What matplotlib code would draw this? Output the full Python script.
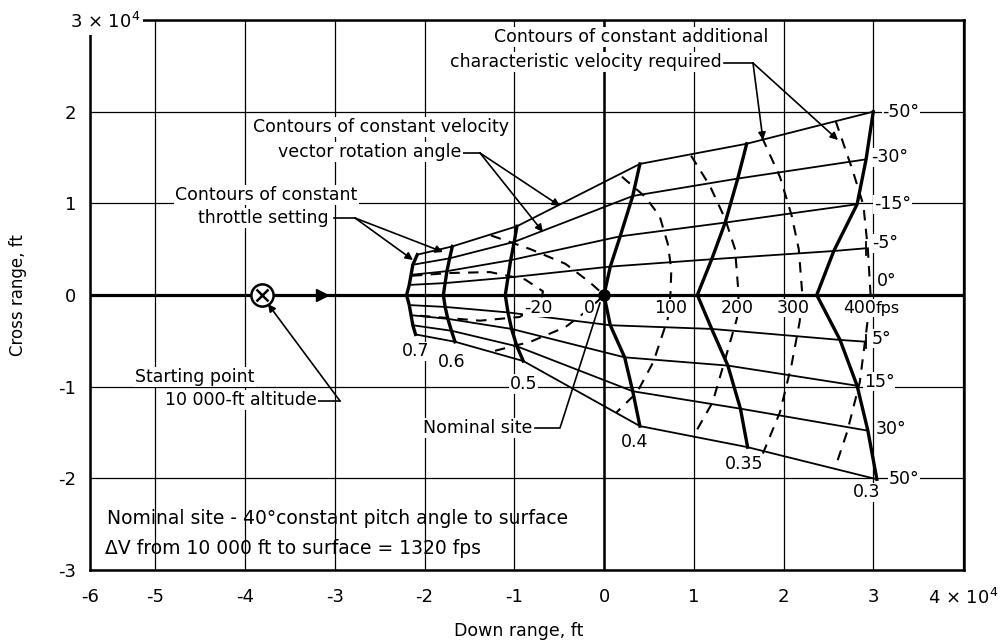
import matplotlib
matplotlib.use("Agg")
import matplotlib.pyplot as plt

plt.rcParams['font.family'] = ['DejaVu Sans']
plt.rcParams['axes.unicode_minus'] = False

# ---------------- data (down range / cross range in units of 10^4 ft) ----------------
angle_labels = ['-50°', '-30°', '-15°', '-5°', '0°', '5°', '15°', '30°', '50°']
throttle_labels = ['0.7', '0.6', '0.5', '0.4', '0.35', '0.3']

# throttle contours: points at the angles above (same order)
thr07_x = [-2.08, -2.13, -2.15, -2.17, -2.20, -2.17, -2.15, -2.13, -2.10]
thr07_y = [0.44, 0.33, 0.22, 0.11, 0.0, -0.11, -0.22, -0.33, -0.43]
thr06_x = [-1.69, -1.72, -1.75, -1.77, -1.79, -1.77, -1.74, -1.70, -1.66]
thr06_y = [0.53, 0.40, 0.26, 0.13, 0.0, -0.13, -0.26, -0.39, -0.51]
thr05_x = [-0.97, -1.00, -1.04, -1.07, -1.10, -1.07, -1.03, -0.97, -0.90]
thr05_y = [0.75, 0.58, 0.38, 0.19, 0.0, -0.19, -0.37, -0.56, -0.72]
thr04_x = [0.40, 0.32, 0.18, 0.07, 0.0, 0.07, 0.23, 0.32, 0.40]
thr04_y = [1.43, 1.08, 0.64, 0.31, 0.0, -0.33, -0.68, -1.05, -1.43]
thr035_x = [1.59, 1.49, 1.35, 1.20, 1.04, 1.20, 1.38, 1.52, 1.60]
thr035_y = [1.65, 1.27, 0.79, 0.39, 0.0, -0.37, -0.77, -1.24, -1.66]
thr03_x = [3.00, 2.92, 2.82, 2.56, 2.37, 2.63, 2.82, 2.94, 3.04]
thr03_y = [2.00, 1.48, 0.99, 0.48, 0.0, -0.49, -0.99, -1.48, -2.01]

# extension of the -5 deg / 5 deg lines beyond the 0.3 contour
ext_m5 = [2.92, 0.51]
ext_p5 = [2.92, -0.51]

# contours of constant additional characteristic velocity (fps)
dv_labels = ['-20', '0', '100', '200', '300', '400']
dvm20_x = [-2.14, -1.72, -1.27, -0.88, -0.68, -0.71, -0.94, -1.38, -2.13]
dvm20_y = [0.21, 0.24, 0.25, 0.17, 0.04, -0.10, -0.24, -0.28, -0.22]
dv0_x = [-1.26, -0.82, -0.43, -0.16, 0.0, -0.16, -0.43, -0.82, -1.26]
dv0_y = [0.65, 0.50, 0.34, 0.14, 0.0, -0.15, -0.35, -0.51, -0.62]
dv100_x = [0.20, 0.46, 0.62, 0.71, 0.75, 0.74, 0.71, 0.55, 0.37, 0.14]
dv100_y = [1.29, 1.07, 0.86, 0.56, 0.28, 0.0, -0.26, -0.73, -1.06, -1.28]
dv200_x = [0.97, 1.18, 1.35, 1.46, 1.50, 1.48, 1.35, 1.21, 0.99]
dv200_y = [1.52, 1.19, 0.83, 0.50, 0.0, -0.26, -0.70, -1.17, -1.55]
dv300_x = [1.76, 1.96, 2.09, 2.17, 2.21, 2.18, 2.09, 1.96, 1.77]
dv300_y = [1.72, 1.29, 0.87, 0.50, 0.0, -0.29, -0.76, -1.28, -1.73]
dv400_x = [2.58, 2.77, 2.89, 2.94, 2.97, 2.94, 2.85, 2.71, 2.57]
dv400_y = [1.90, 1.36, 0.98, 0.50, 0.0, -0.26, -0.95, -1.49, -1.90]

start_point = [-3.81, 0.0]
path_arrow = [-3.14, 0.0]
nominal_site = [0.0, 0.0]

xtick_vals = [-5.727, -5, -4, -3, -2, -1, 0, 1, 2, 3, 4]
xtick_text = ['-6', '-5', '-4', '-3', '-2', '-1', '0', '1', '2', '3', '4 × 10$^4$']
ytick_vals = [-3, -2, -1, 0, 1, 2, 3]
ytick_text = ['-3', '-2', '-1', '0', '1', '2', '']

# ---------------- figure ----------------
W, H = 1007, 643
fig = plt.figure(figsize=(W / 100, H / 100), dpi=100)
ax = fig.add_axes([90 / W, 73 / H, 874 / W, 550 / H])
ax.set_xlim(-5.727, 4.011)
ax.set_ylim(-3.0, 3.0)


def P(px, py):
    """pixel position in the picture -> data coordinates (for text placement)."""
    x0, x1 = ax.get_xlim()
    y0, y1 = ax.get_ylim()
    X = x0 + (px - 90) / 874 * (x1 - x0)
    Y = y1 - (py - 20) / 550 * (y1 - y0)
    return (X, Y)


ax.set_xticks(xtick_vals)
ax.set_xticklabels(xtick_text, fontsize=13)
ax.set_yticks(ytick_vals)
ax.set_yticklabels(ytick_text, fontsize=13)
ax.tick_params(axis='x', length=0, pad=13)
ax.tick_params(axis='y', length=0, pad=10)
ax.grid(True, color='black', lw=0.9, zorder=0)
ax.set_axisbelow(True)
for s in ax.spines.values():
    s.set_linewidth(1.8)
ax.axhline(0, color='black', lw=2.3, zorder=1)
ax.axvline(0, color='black', lw=1.8, zorder=1)

ax.set_xlabel('Down range, ft', fontsize=12.5, labelpad=14)
ax.xaxis.set_label_coords(0.49, -0.095)
ax.set_ylabel('Cross range, ft', fontsize=12)
ax.yaxis.set_label_coords(-0.072, 0.5)

ax.text(*P(105, 22), '3 × 10$^4$', fontsize=13, ha='center', va='center',
        bbox=dict(facecolor='white', edgecolor='none', pad=2), zorder=10, clip_on=False)

# ---------------- grid of throttle / angle contours ----------------
thr_x = [thr07_x, thr06_x, thr05_x, thr04_x, thr035_x, thr03_x]
thr_y = [thr07_y, thr06_y, thr05_y, thr04_y, thr035_y, thr03_y]

for xs, ys in zip(thr_x, thr_y):
    ax.plot(xs, ys, color='black', lw=2.4, solid_joinstyle='round', zorder=4)

for j in range(len(angle_labels)):
    xs = [t[j] for t in thr_x]
    ys = [t[j] for t in thr_y]
    if angle_labels[j] == '-5°':
        xs.append(ext_m5[0]); ys.append(ext_m5[1])
    if angle_labels[j] == '5°':
        xs.append(ext_p5[0]); ys.append(ext_p5[1])
    ax.plot(xs, ys, color='black', lw=1.3, zorder=3)

# small end ticks on the -5 / 5 lines
for e in (ext_m5, ext_p5):
    ax.plot([e[0], e[0]], [e[1] - 0.07, e[1] + 0.07], color='black', lw=1.3, zorder=3)

# dashed contours
dv_x = [dvm20_x, dv0_x, dv100_x, dv200_x, dv300_x, dv400_x]
dv_y = [dvm20_y, dv0_y, dv100_y, dv200_y, dv300_y, dv400_y]
for xs, ys in zip(dv_x, dv_y):
    ax.plot(xs, ys, color='black', lw=1.5, ls=(0, (5, 4)), zorder=3)

# throttle labels
thr_off = [(0, -17), (-3, -20), (0, -23), (-5, -16), (-3, -17), (-10, -13)]
for lab, xs, ys, off in zip(throttle_labels, thr_x, thr_y, thr_off):
    ax.annotate(lab, (xs[-1], ys[-1]), xytext=off, textcoords='offset pixels',
                fontsize=12.5, ha='center', va='center', zorder=6,
                bbox=dict(facecolor='white', edgecolor='none', pad=0.5))

# angle labels
ang_pts = [(thr03_x[0], thr03_y[0]), (thr03_x[1], thr03_y[1]), (thr03_x[2], thr03_y[2]),
           tuple(ext_m5), (thr03_x[4], thr03_y[4]), tuple(ext_p5),
           (thr03_x[6], thr03_y[6]), (thr03_x[7], thr03_y[7]), (thr03_x[8], thr03_y[8])]
ang_off = [(9, 0), (5, 2), (17, 0), (6, 5), (60, 14), (6, 3), (7, 4), (8, 2), (12, 0)]
for lab, pt, off in zip(angle_labels, ang_pts, ang_off):
    ax.annotate(lab, pt, xytext=off, textcoords='offset pixels', fontsize=12.5,
                ha='left', va='center', zorder=6,
                bbox=dict(facecolor='white', edgecolor='none', pad=0.5))

# dv labels (just under the axis)
dv_off = [-5, -15, 0, -1, -9, -11]
for lab, xs, ys, off in zip(dv_labels, dv_x, dv_y, dv_off):
    i0 = min(range(len(ys)), key=lambda k: abs(ys[k]))
    ax.annotate(lab, (xs[i0], 0), xytext=(off, -13), textcoords='offset pixels',
                fontsize=12.5, ha='center', va='center', zorder=6,
                bbox=dict(facecolor='white', edgecolor='none', pad=0.3))
ax.annotate('fps', (dv400_x[4], 0), xytext=(17, -14), textcoords='offset pixels',
            fontsize=11.5, ha='center', va='center', zorder=6,
            bbox=dict(facecolor='white', edgecolor='none', pad=0.3))

# markers
ax.plot(*start_point, marker='o', ms=16, mfc='white', mec='black', mew=1.8, zorder=7)
ax.plot(*start_point, marker='x', ms=9, mec='black', mew=1.8, zorder=8)
ax.plot(*path_arrow, marker='>', ms=8, color='black', zorder=7)
ax.plot(*nominal_site, marker='o', ms=8, color='black', zorder=7)

# ---------------- annotations ----------------
tkw = dict(fontsize=12.5, zorder=6, bbox=dict(facecolor='white', edgecolor='none', pad=1))
akw = dict(arrowstyle='-|>', color='black', lw=1.2, mutation_scale=11, shrinkA=0, shrinkB=0)
lkw = dict(color='black', lw=1.2, zorder=5)

# additional velocity
ax.text(*P(768, 37), 'Contours of constant additional', ha='right', va='center', **tkw)
ax.text(*P(722, 62), 'characteristic velocity required', ha='right', va='center', **tkw)
ax.plot(*zip(P(724, 63), P(753, 63)), **lkw)
ax.annotate('', xy=P(763, 140), xytext=P(753, 63), arrowprops=akw, zorder=5)
ax.annotate('', xy=P(838, 140), xytext=P(753, 63), arrowprops=akw, zorder=5)

# rotation angle
ax.text(*P(253, 127), 'Contours of constant velocity', ha='left', va='center', **tkw)
ax.text(*P(278, 152), 'vector rotation angle', ha='left', va='center', **tkw)
ax.plot(*zip(P(462, 153), P(480, 153)), **lkw)
ax.annotate('', xy=P(560, 206), xytext=P(480, 153), arrowprops=akw, zorder=5)
ax.annotate('', xy=P(543, 232), xytext=P(480, 153), arrowprops=akw, zorder=5)

# throttle
ax.text(*P(175, 195), 'Contours of constant', ha='left', va='center', **tkw)
ax.text(*P(198, 218), 'throttle setting', ha='left', va='center', **tkw)
ax.plot(*zip(P(334, 218), P(355, 218)), **lkw)
ax.annotate('', xy=P(413, 260), xytext=P(355, 218), arrowprops=akw, zorder=5)
ax.annotate('', xy=P(443, 252), xytext=P(355, 218), arrowprops=akw, zorder=5)

# starting point
ax.text(*P(135, 377), 'Starting point', ha='left', va='center', **tkw)
ax.text(*P(165, 400), '10 000-ft altitude', ha='left', va='center', **tkw)
ax.plot(*zip(P(318, 401), P(340, 401)), **lkw)
ax.annotate('', xy=P(268, 304), xytext=P(340, 401), arrowprops=akw, zorder=5)

# nominal site
ax.text(*P(423, 428), 'Nominal site', ha='left', va='center', **tkw)
ax.plot(*zip(P(535, 428), P(560, 428), P(600, 303)), **lkw)

# notes
ax.text(*P(107, 519), 'Nominal site - 40°constant pitch angle to surface', ha='left',
        va='center', fontsize=13.5, zorder=6)
ax.text(*P(105, 548), 'ΔV from 10 000 ft to surface = 1320 fps', ha='left',
        va='center', fontsize=13.5, zorder=6)

fig.savefig('out.png', dpi=100)
